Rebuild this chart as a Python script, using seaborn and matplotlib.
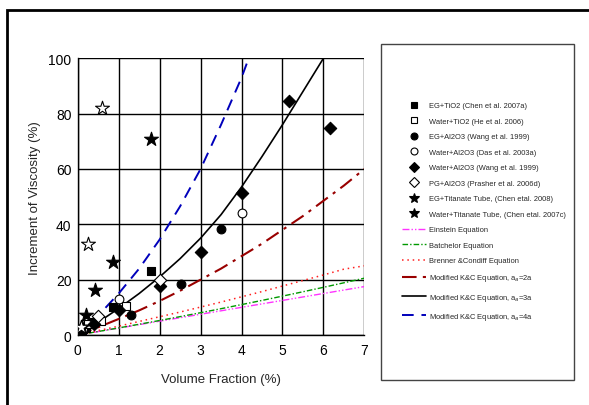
import matplotlib
matplotlib.use('Agg')
import matplotlib.pyplot as plt
from matplotlib.lines import Line2D
from matplotlib.patches import Rectangle
import seaborn as sns
import pandas as pd

# measured points: volume fraction (%) vs increment of viscosity (%)
eg_tio2_x = [0.1, 0.2, 0.4, 0.86, 1.8]
eg_tio2_y = [1.0, 2.5, 4.6, 10.0, 23.0]
water_tio2_x = [0.12, 0.24, 0.58, 1.17]
water_tio2_y = [2.2, 4.1, 5.0, 10.6]
eg_al2o3_x = [0.05, 1.29, 2.52, 3.51]
eg_al2o3_y = [1.0, 7.2, 18.4, 38.3]
das_al2o3_x = [1.0, 4.0]
das_al2o3_y = [13.0, 44.0]
wang_al2o3_x = [0.4, 1.0, 2.0, 3.0, 4.0, 5.17, 6.16]
wang_al2o3_y = [4.0, 9.0, 17.8, 29.9, 51.2, 84.5, 74.8]
pg_al2o3_x = [0.5, 2.0]
pg_al2o3_y = [6.7, 20.0]
eg_titanate_x = [0.1, 0.2, 0.42, 0.85, 1.79]
eg_titanate_y = [3.0, 7.2, 16.3, 26.3, 70.8]
water_titanate_x = [0.08, 0.24, 0.6]
water_titanate_y = [3.0, 33.0, 82.0]

# model curves
phi = [0, 0.5, 1, 1.5, 2, 2.5, 3, 3.5, 4, 4.5, 5, 5.5, 6, 6.5, 7]
einstein = [0, 1.25, 2.5, 3.75, 5, 6.25, 7.5, 8.75, 10, 11.25, 12.5, 13.75, 15, 16.25, 17.5]
batchelor = [0, 1.27, 2.56, 3.89, 5.25, 6.64, 8.06, 9.51, 10.99, 12.5, 14.05, 15.63, 17.23, 18.87, 20.54]
brenner = [0, 1.6, 3.2, 4.9, 6.6, 8.3, 10.1, 11.9, 13.8, 15.7, 17.7, 19.7, 21.7, 23.8, 25.0]
kc_2a = [0, 2.8, 5.8, 8.9, 12.3, 16.0, 20.0, 24.0, 28.5, 33.0, 38.0, 43.0, 48.5, 54.0, 60.0]
phi_3a = [0, 0.5, 1, 1.5, 2, 2.5, 3, 3.5, 4, 4.5, 5, 5.5, 6, 6.1]
kc_3a = [0, 4.6, 9.6, 15.0, 21.0, 27.6, 35.0, 43.5, 53.5, 64.5, 76.0, 88.0, 100.0, 102.5]
phi_4a = [0, 0.5, 1, 1.5, 2, 2.5, 3, 3.5, 4, 4.2]
kc_4a = [0, 7.0, 15.0, 24.0, 34.5, 46.5, 60.0, 76.0, 93.0, 101.0]

sns.set_style('white')
plt.rcParams['font.family'] = ['Liberation Sans', 'DejaVu Sans']

fig = plt.figure(figsize=(5.89, 4.06), dpi=100)
ax = fig.add_axes([0.132, 0.1724, 0.4866, 0.6815])

curves = [
    (phi, einstein, '#ff33ff', (0, (5, 1.5, 1, 1.5, 1, 1.5)), 1.0, 'Einstein Equation'),
    (phi, batchelor, '#009900', (0, (4, 1.5, 1, 1.5)), 1.0, 'Batchelor Equation'),
    (phi, brenner, '#ff2020', (0, (1, 2.5)), 1.1, 'Brenner &Condiff Equation'),
    (phi, kc_2a, '#990000', (0, (7, 3, 1.5, 3)), 1.5, 'Modified K&C Equation, a$_a$=2a'),
    (phi_3a, kc_3a, 'black', '-', 1.2, 'Modified K&C Equation, a$_a$=3a'),
    (phi_4a, kc_4a, '#0000bb', (0, (6, 4)), 1.4, 'Modified K&C Equation, a$_a$=4a'),
]
line_handles = []
for xs, ys, col, ls, lw, lab in curves:
    df = pd.DataFrame({'x': xs, 'y': ys})
    sns.lineplot(data=df, x='x', y='y', ax=ax, color=col, linestyle=ls,
                 linewidth=lw, sort=False)
    line_handles.append(Line2D([], [], color=col, linestyle=ls, linewidth=lw, label=lab))

points = [
    (eg_tio2_x, eg_tio2_y, 's', 'black', 40, 'EG+TiO2 (Chen et al. 2007a)'),
    (water_tio2_x, water_tio2_y, 's', 'white', 40, 'Water+TiO2 (He et al. 2006)'),
    (eg_al2o3_x, eg_al2o3_y, 'o', 'black', 40, 'EG+Al2O3 (Wang et al. 1999)'),
    (das_al2o3_x, das_al2o3_y, 'o', 'white', 40, 'Water+Al2O3 (Das et al. 2003a)'),
    (wang_al2o3_x, wang_al2o3_y, 'D', 'black', 40, 'Water+Al2O3 (Wang et al. 1999)'),
    (pg_al2o3_x, pg_al2o3_y, 'D', 'white', 40, 'PG+Al2O3 (Prasher et al. 2006d)'),
    (eg_titanate_x, eg_titanate_y, '*', 'black', 110, 'EG+Titanate Tube, (Chen etal. 2008)'),
    (water_titanate_x, water_titanate_y, '*', 'white', 110, 'Water+Titanate Tube, (Chen etal. 2007c)'),
]
marker_handles = []
for xs, ys, mk, fc, s, lab in points:
    df = pd.DataFrame({'x': xs, 'y': ys})
    sns.scatterplot(data=df, x='x', y='y', ax=ax, marker=mk, s=s,
                    color=fc, edgecolor='black', linewidth=0.8, zorder=5)
    legend_fc = 'black' if mk == '*' else fc
    marker_handles.append(Line2D([], [], linestyle='none', marker=mk,
                                 markersize=7 if mk == '*' else 5,
                                 markerfacecolor=legend_fc, markeredgecolor='black',
                                 markeredgewidth=0.8, label=lab))

ax.set_xlim(0, 7)
ax.set_ylim(0, 100)
ax.set_xticks(range(0, 8))
ax.set_yticks(range(0, 101, 20))
ax.grid(True, color='black', linewidth=1.0)
for side in ['top', 'right']:
    ax.spines[side].set_visible(False)
for side in ['left', 'bottom']:
    ax.spines[side].set_color('black')
    ax.spines[side].set_linewidth(1.0)
ax.tick_params(axis='both', direction='out', length=3, width=0.8, colors='black',
               labelsize=10, pad=1.5)
ax.tick_params(axis='x', direction='in', length=4, pad=6)
ax.set_xlabel('Volume Fraction (%)', fontsize=9.5, labelpad=11)
ax.set_ylabel('Increment of Viscosity (%)', fontsize=9.5, labelpad=5)

# legend panel on the right
fig.add_artist(Rectangle((381 / 589, 1 - 381 / 406), 193 / 589, 336 / 406,
                         transform=fig.transFigure, fill=False,
                         edgecolor='#444444', linewidth=1.0))
leg = fig.legend(handles=marker_handles + line_handles, loc='upper left',
                 bbox_to_anchor=(399 / 589, 1 - 100 / 406), frameon=False,
                 prop={'size': 5.4}, handlelength=3.2,
                 handletextpad=0.4, labelspacing=1.1, borderaxespad=0)

# outer frame
fig.add_artist(Rectangle((7 / 589, -0.1), 1.2, 1.1 - 10.5 / 406,
                         transform=fig.transFigure, fill=False,
                         edgecolor='black', linewidth=2.0))

fig.savefig('out.png', dpi=100)
